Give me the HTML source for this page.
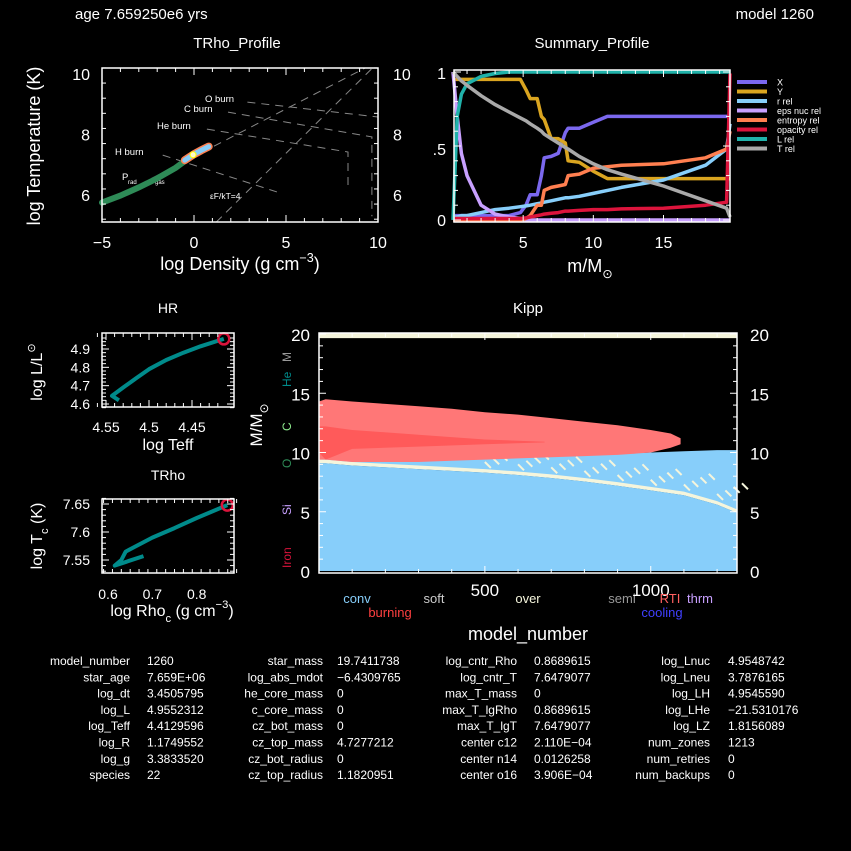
<!DOCTYPE html>
<html><head><meta charset="utf-8"><style>
body{margin:0;background:#000;width:851px;height:851px;overflow:hidden}
svg{display:block}
text{font-family:"Liberation Sans",sans-serif;fill:#fff}
</style></head><body>
<svg id="s" width="851" height="851" viewBox="0 0 851 851">
<rect width="851" height="851" fill="#000"/>
<text x="75" y="19" font-size="15">age 7.659250e6 yrs</text>
<text x="814" y="19" font-size="15" text-anchor="end">model 1260</text>
<g id="g1"></g>
<g id="g2"></g>
<g id="g3"></g>
<g id="g4"></g>
<g id="g5"></g>
<g id="g6"></g>
</svg>
<script>
// ---- TRho profile data
const trhoRho=[-5,-4,-3,-2,-1,-0.5];
const trhoT=[5.75,5.98,6.25,6.55,6.9,7.12];
const trhoCoreRho=[-0.5,0,0.4,0.8];
const trhoCoreT=[7.15,7.35,7.48,7.6];
// ---- Summary profile data
const sm=[0,0.3,0.6,1,2,3,4,4.8,5.2,5.5,6,6.3,6.5,7,7.5,8,8.2,9,10,11,12,15,18,19.5,19.74];
const sX=[0.03,0.03,0.03,0.03,0.03,0.03,0.03,0.05,0.1,0.17,0.17,0.3,0.42,0.43,0.45,0.59,0.62,0.62,0.66,0.7,0.7,0.7,0.7,0.7,0.7];
const sY=[0.95,0.95,0.95,0.95,0.95,0.95,0.95,0.95,0.88,0.82,0.82,0.7,0.68,0.55,0.55,0.52,0.4,0.39,0.33,0.28,0.28,0.28,0.28,0.28,0.28];
const sR=[0.02,0.02,0.03,0.03,0.05,0.07,0.08,0.09,0.095,0.1,0.11,0.115,0.12,0.13,0.14,0.15,0.15,0.16,0.18,0.2,0.22,0.27,0.37,0.48,0.65];
const sEps=[1,0.7,0.45,0.3,0.1,0.04,0.02,0.01,0,0,0,0,0,0,0,0,0,0,0,0,0,0,0,0,0];
const sS=[0,0,0,0,0,0,0,0,0.01,0.03,0.1,0.1,0.2,0.22,0.23,0.24,0.3,0.31,0.35,0.36,0.37,0.38,0.42,0.48,0.6];
const sK=[0.01,0.01,0.01,0.01,0.01,0.01,0.01,0.01,0.015,0.02,0.03,0.035,0.04,0.045,0.05,0.06,0.06,0.065,0.07,0.07,0.075,0.08,0.1,0.12,0.99];
const sL=[0,0.7,0.85,0.92,0.97,0.99,1,1,1,1,1,1,1,1,1,1,1,1,1,1,1,1,1,1,1];
const sT=[1,0.97,0.94,0.91,0.84,0.78,0.73,0.69,0.67,0.65,0.62,0.6,0.58,0.55,0.52,0.49,0.48,0.43,0.38,0.34,0.31,0.23,0.13,0.08,0.02];
// ---- HR data
const hrTeff=[4.535,4.543,4.54,4.53,4.515,4.5,4.48,4.46,4.44,4.413];
const hrL=[4.62,4.645,4.655,4.69,4.74,4.79,4.84,4.88,4.915,4.955];
// ---- TRho center data
const tcRho=[0.68,0.615,0.63,0.64,0.7,0.75,0.8,0.869];
const tcT=[7.557,7.54,7.55,7.565,7.59,7.607,7.625,7.648];
// ---- Kipp data
const kModels=[0,20,100,200,300,400,500,600,700,800,900,1000,1100,1200,1260];
const kConvTop=[9.1,9.1,8.9,8.75,8.6,8.45,8.3,8.1,7.85,7.55,7.2,6.8,6.4,5.6,4.9];
const kMixTop=[9.5,9.5,9.3,9.3,9.3,9.4,9.5,9.6,9.7,9.8,9.9,10.0,10.1,10.2,10.2];
const bModels=[0,20,100,200,300,400,500,600,700,800,900,1000,1060,1090];
const bTop=[14.3,14.5,14.3,14.1,13.9,13.7,13.4,13.2,12.9,12.6,12.3,11.9,11.6,11.2];
const bBot=[9.4,9.4,9.2,9.2,9.2,9.3,9.4,9.5,9.6,9.7,9.8,10.0,10.4,10.7];
const dModels=[0,20,100,300,500,680];
const dTop=[12.2,12.2,11.9,11.5,11.1,10.9];
const dBot=[10.0,9.4,10.3,10.5,10.7,10.85];

const NS='http://www.w3.org/2000/svg';
function E(p,t,a){const e=document.createElementNS(NS,t);for(const k in a)e.setAttribute(k,a[k]);p.appendChild(e);return e;}
function T(p,x,y,s,sz,o){const e=E(p,'text',Object.assign({x:x,y:y,'font-size':sz},o||{}));e.textContent=s;return e;}
function H(p,x,y,html,sz,o){const e=E(p,'text',Object.assign({x:x,y:y,'font-size':sz},o||{}));e.innerHTML=html;return e;}
function lin(d0,d1,p0,p1){return v=>p0+(v-d0)*(p1-p0)/(d1-d0);}
function pts(xs,ys,fx,fy){return xs.map((v,i)=>fx(v).toFixed(1)+','+fy(ys[i]).toFixed(1)).join(' ');}
function frame(g,x0,y0,x1,y1,fx,fy,xt,yt,xm,ym){
  E(g,'rect',{x:x0,y:y0,width:x1-x0,height:y1-y0,fill:'none',stroke:'#fff','stroke-width':1.5});
  xm.forEach(v=>{const x=fx(v);const L=xt.includes(v)?7:4;E(g,'line',{x1:x,y1:y1,x2:x,y2:y1-L,stroke:'#fff'});E(g,'line',{x1:x,y1:y0,x2:x,y2:y0+L,stroke:'#fff'});});
  ym.forEach(v=>{const y=fy(v);const L=yt.includes(v)?7:4;E(g,'line',{x1:x0,y1:y,x2:x0+L,y2:y,stroke:'#fff'});E(g,'line',{x1:x1,y1:y,x2:x1-L,y2:y,stroke:'#fff'});});
}
function rng(a,b,s){const r=[];for(let v=a;v<=b+1e-9;v+=s)r.push(+v.toFixed(4));return r;}
const SUP='<tspan dy="-8" font-size="0.7em">',SUB='<tspan dy="6" font-size="0.7em">';

// ===== Panel 1: TRho_Profile
(function(){
const g=document.getElementById('g1');
const fx=lin(-5,10,102,378), fy=lin(10,6,74,195);
T(g,237,48,'TRho_Profile',15,{'text-anchor':'middle'});
const gd={stroke:'#888',fill:'none','stroke-width':1,'stroke-dasharray':'8,6'};
[[[-1.7,4.67],[7.32,6.07]],[[0.7,8.37,8.37],[8.18,7.42,6.26]],[[1.85,9.67,9.67],[8.74,7.92,5.3]],[[2.9,10],[9.07,8.58]],[[1.2,9.7],[5.1,10.2]],[[-5,9.3],[5.7,10.2]]].forEach(l=>{
  const e=E(g,'polyline',Object.assign({points:pts(l[0],l[1],fx,fy)},gd));
  });
const lb={fill:'#999'};
T(g,205,102,'O burn',9.5,lb);T(g,184,112,'C burn',9.5,lb);T(g,157,129,'He burn',9.5,lb);T(g,115,155,'H burn',9.5,lb);
T(g,122,180,'P',9.5,lb);T(g,128,184,'rad',6,lb);T(g,155,184,'gas',6,lb);T(g,210,199,'εF/kT=4',8.5,lb);
const p=E(g,'polyline',{points:pts(trhoRho,trhoT,fx,fy),fill:'none',stroke:'#2e8b57','stroke-width':6,'stroke-linecap':'round'});

const c=E(g,'polyline',{points:pts(trhoCoreRho,trhoCoreT,fx,fy),fill:'none',stroke:'#ff7f50','stroke-width':8,'stroke-linecap':'round'});

E(g,'polyline',{points:pts(trhoCoreRho,trhoCoreT,fx,fy),fill:'none',stroke:'#87cefa','stroke-width':5,'stroke-linecap':'round'});
E(g,'circle',{cx:fx(-0.05),cy:fy(7.33),r:3,fill:'#fffacd',stroke:'#ff0','stroke-width':1});
frame(g,102,68,378,222,fx,fy,[-5,0,5,10],[6,8,10],rng(-5,10,1),rng(5.2,10.2,0.5));
[-5,0,5,10].forEach(v=>T(g,fx(v),248,v<0?'−'+(-v):String(v),16,{'text-anchor':'middle'}));
[6,8,10].forEach(v=>{T(g,90,fy(v)+6,String(v),16,{'text-anchor':'end'});T(g,393,fy(v)+6,String(v),16);});
H(g,240,270,'log Density (g cm'+SUP+'−3</tspan><tspan dy="8">)</tspan>',18,{'text-anchor':'middle'});
T(g,0,0,'log Temperature (K)',18,{transform:'translate(40,146) rotate(-90)','text-anchor':'middle'});
})();

// ===== Panel 2: Summary_Profile
(function(){
const g=document.getElementById('g2');
const fx=lin(0,19.74,453,730), fy=lin(0,1,220,72);
T(g,592,48,'Summary_Profile',15,{'text-anchor':'middle'});
const series=[['x',sX,'#7b68ee'],['y',sY,'#daa520'],['r-rel',sR,'#87cefa'],['eps-nuc-rel',sEps,'#c8a0ff'],['entropy-rel',sS,'#ff7f50'],['opacity-rel',sK,'#dc143c'],['l-rel',sL,'#20b2aa'],['t-rel',sT,'#a9a9a9']];
const names=['X','Y','r rel','eps nuc rel','entropy rel','opacity rel','L rel','T rel'];
series.forEach((s,i)=>{
  const e=E(g,'polyline',{points:pts(sm,s[1],fx,fy),fill:'none',stroke:s[2],'stroke-width':3.5,'stroke-linejoin':'round'});
  
  const y=82+i*9.5;
  const l=E(g,'line',{x1:737,y1:y,x2:767,y2:y,stroke:s[2],'stroke-width':4});
  
  T(g,777,y+3.5,names[i],9);
});
frame(g,454,70,730,222,fx,fy,[5,10,15],[0,0.5,1],rng(1,19,1),rng(0,1,0.1));
[5,10,15].forEach(v=>T(g,fx(v),248,String(v),16,{'text-anchor':'middle'}));
T(g,446,226,'0',16,{'text-anchor':'end'});T(g,446,155,'.5',16,{'text-anchor':'end'});T(g,446,79,'1',16,{'text-anchor':'end'});
H(g,590,272,'m/M'+SUB+'⊙</tspan>',18,{'text-anchor':'middle'});
})();

// ===== Panel 3: HR
(function(){
const g=document.getElementById('g3');
const fx=lin(4.55,4.45,106,192), fy=lin(4.9,4.6,349,404);
T(g,168,313,'HR',14,{'text-anchor':'middle'});
const p=E(g,'polyline',{points:pts(hrTeff,hrL,fx,fy),fill:'none',stroke:'#008b8b','stroke-width':4,'stroke-linejoin':'round'});

const n=hrTeff.length-1;
E(g,'circle',{cx:fx(hrTeff[n]),cy:fy(hrL[n]),r:5.5,fill:'none',stroke:'#dc143c','stroke-width':2.5});
frame(g,102,333,234,407,fx,fy,[4.55,4.5,4.45],[4.6,4.7,4.8,4.9],rng(4.42,4.56,0.01),rng(4.58,4.96,0.02));
[4.55,4.5,4.45].forEach(v=>T(g,fx(v),432,String(v),14,{'text-anchor':'middle'}));
[4.6,4.7,4.8,4.9].forEach(v=>T(g,90,fy(v)+5,String(v),14,{'text-anchor':'end'}));
T(g,168,450,'log Teff',16,{'text-anchor':'middle'});
H(g,0,0,'log L/L<tspan dy="-7" font-size="0.7em">⊙</tspan>',16,{transform:'translate(42,372) rotate(-90)','text-anchor':'middle'});
})();

// ===== Panel 4: TRho center
(function(){
const g=document.getElementById('g4');
const fx=lin(0.6,0.8,108,196.7), fy=lin(7.65,7.55,504,560);
T(g,168,480,'TRho',14,{'text-anchor':'middle'});
const p=E(g,'polyline',{points:pts(tcRho,tcT,fx,fy),fill:'none',stroke:'#008b8b','stroke-width':4,'stroke-linejoin':'round'});

const n=tcRho.length-1;
E(g,'circle',{cx:fx(tcRho[n]),cy:fy(tcT[n]),r:5.5,fill:'none',stroke:'#dc143c','stroke-width':2.5});
frame(g,102,499,234,573,fx,fy,[0.6,0.7,0.8],[7.55,7.6,7.65],rng(0.59,0.89,0.02),rng(7.53,7.66,0.01));
[0.6,0.7,0.8].forEach(v=>T(g,fx(v),599,String(v),14,{'text-anchor':'middle'}));
[7.55,7.6,7.65].forEach(v=>T(g,90,fy(v)+5,String(v),14,{'text-anchor':'end'}));
H(g,172,616,'log Rho'+SUB+'c</tspan><tspan dy="-6"> (g cm</tspan>'+SUP+'−3</tspan><tspan dy="8">)</tspan>',16,{'text-anchor':'middle'});
H(g,0,0,'log T'+SUB+'c</tspan><tspan dy="-6"> (K)</tspan>',16,{transform:'translate(42,536) rotate(-90)','text-anchor':'middle'});
})();

// ===== Panel 5: Kipp
(function(){
const g=document.getElementById('g5');
const fx=lin(0,1260,319,737), fy=lin(0,20,571,334);
T(g,528,313,'Kipp',15,{'text-anchor':'middle'});
function band(xs,top,bot,col,name){const a=xs.map((v,i)=>fx(v).toFixed(1)+','+fy(top[i]).toFixed(1));const b=xs.map((v,i)=>fx(v).toFixed(1)+','+fy(bot[i]).toFixed(1)).reverse();
 const e=E(g,'polygon',{points:a.concat(b).join(' '),fill:col});return e;}
const zero=kModels.map(()=>0);
band(kModels,kMixTop,kConvTop,'#87cefa','mixing-upper-region');
const bandOver=kConvTop.map(v=>v+0.3);
band(kModels,bandOver,kConvTop,'#f5f5dc','overshoot-band');
band(kModels,kConvTop,zero,'#87cefa','convective-core');
kModels.forEach((m,i)=>{if(m<500||i==kModels.length-1)return;for(let k=0;k<4;k++){const mm=m+k*25;const y0=kConvTop[i]+0.9+k*0.3;
 const s=E(g,'line',{x1:fx(mm),y1:fy(y0),x2:fx(mm+18),y2:fy(y0-0.5),stroke:'#f5f5dc','stroke-width':2});
 }});
band(bModels,bTop,bBot,'#ff7777','burning-region');
band(dModels,dTop,dBot,'#ff5a5a','strong-burning-region');
const topB=kModels.map(()=>20.05), botB=kModels.map(()=>19.65);
band(kModels,topB,botB,'#f5f5dc','surface-band');
frame(g,319,333,737,573,fx,fy,[500,1000],[0,5,10,15,20],rng(100,1200,100),rng(1,20,1));
[500,1000].forEach(v=>T(g,fx(v),596,String(v),17,{'text-anchor':'middle'}));
[0,5,10,15,20].forEach(v=>{T(g,310,fy(v)+7,String(v),17,{'text-anchor':'end'});T(g,750,fy(v)+7,String(v),17);});
H(g,0,0,'M/M'+SUB+'⊙</tspan>',17,{transform:'translate(262,425) rotate(-90)','text-anchor':'middle'});
[['M',362,'#999'],['He',387,'#008b8b'],['C',431,'#90ee90'],['O',468,'#2e8b57'],['Si',515,'#c8a0ff'],['Iron',568,'#dc143c']].forEach(a=>{
 T(g,0,0,a[0],12,{transform:'translate(291,'+a[1]+') rotate(-90)',style:'fill:'+a[2]});});
[['conv',357,603,'#87cefa'],['soft',434,603,'#ccc'],['over',528,603,'#f5f5dc'],['semi',622,603,'#999'],['RTI',670,603,'#ff6060'],['thrm',700,603,'#c8a0ff'],['burning',390,617,'#ff4040'],['cooling',662,617,'#4040ff']].forEach(a=>{
 const t=T(g,a[1],a[2],a[0],13,{'text-anchor':'middle',style:'fill:'+a[3]});
 });
T(g,528,640,'model_number',18,{'text-anchor':'middle'});
})();

// ===== Text summary
(function(){
const g=document.getElementById('g6');
const cols=[
 [130,147,['model_number','star_age','log_dt','log_L','log_Teff','log_R','log_g','species'],['1260','7.659E+06','3.4505795','4.9552312','4.4129596','1.1749552','3.3833520','22']],
 [323,337,['star_mass','log_abs_mdot','he_core_mass','c_core_mass','cz_bot_mass','cz_top_mass','cz_bot_radius','cz_top_radius'],['19.7411738','−6.4309765','0','0','0','4.7277212','0','1.1820951']],
 [517,534,['log_cntr_Rho','log_cntr_T','max_T_mass','max_T_lgRho','max_T_lgT','center c12','center n14','center o16'],['0.8689615','7.6479077','0','0.8689615','7.6479077','2.110E−04','0.0126258','3.906E−04']],
 [710,728,['log_Lnuc','log_Lneu','log_LH','log_LHe','log_LZ','num_zones','num_retries','num_backups'],['4.9548742','3.7876165','4.9545590','−21.5310176','1.8156089','1213','0','0']]];
cols.forEach(c=>c[2].forEach((l,i)=>{const y=665+i*16.3;T(g,c[0],y,l,12,{'text-anchor':'end'});T(g,c[1],y,c[3][i],12);}));
})();
</script>
</body></html>
